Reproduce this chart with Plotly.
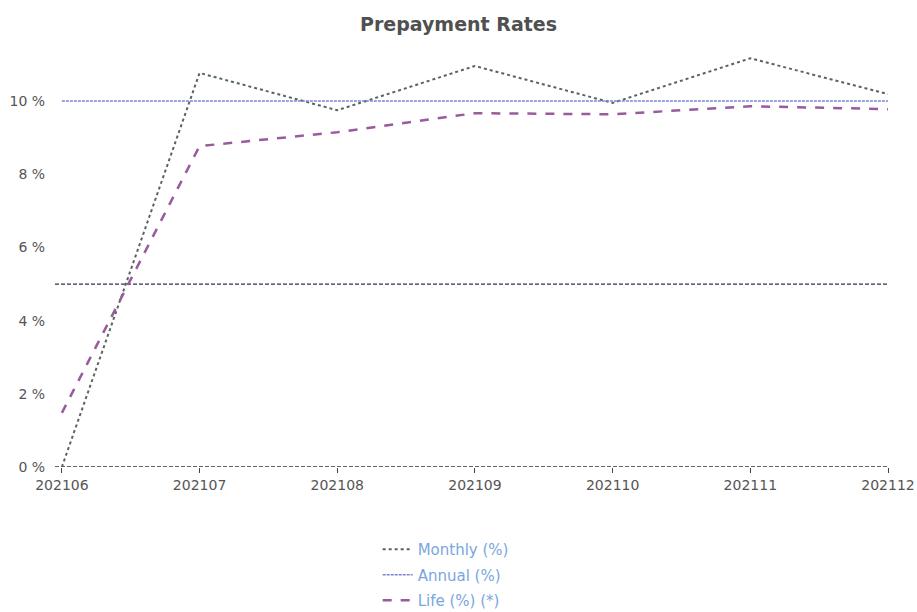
import plotly.graph_objects as go

months = ["202106", "202107", "202108", "202109", "202110", "202111", "202112"]
monthly = [0.0, 10.77, 9.75, 10.96, 9.95, 11.17, 10.19]
annual = [10.0, 10.0, 10.0, 10.0, 10.0, 10.0, 10.0]
life = [1.48, 8.77, 9.15, 9.67, 9.64, 9.86, 9.78]
threshold = 5.0
y_ticks = [0, 2, 4, 6, 8, 10]

xi = list(range(len(months)))

fig = go.Figure()
fig.add_trace(go.Scatter(x=xi, y=monthly, mode="lines", name="Monthly (%)",
                         legendgroup="a",
                         line=dict(color="#56665a", width=2, dash="dot")))
fig.add_trace(go.Scatter(x=xi, y=annual, mode="lines", name="Annual (%)",
                         legendgroup="b",
                         line=dict(color="#7f84d6", width=1.5, dash="3px,1px")))
fig.add_trace(go.Scatter(x=xi, y=life, mode="lines", name="Life (%) (*)",
                         legendgroup="c",
                         line=dict(color="#9a5a9e", width=2.5, dash="dash")))

# 5% reference line and dashed x-axis baseline
fig.add_shape(type="line", xref="paper", x0=0, x1=1, yref="y", y0=threshold, y1=threshold,
              line=dict(color="#33334d", width=1.3, dash="4px,2px"), layer="below")
fig.add_shape(type="line", xref="paper", x0=0, x1=1, yref="y", y0=0, y1=0,
              line=dict(color="#333333", width=1.3, dash="4px,2px"), layer="below")

fig.update_layout(
    width=917, height=612,
    margin=dict(l=55, r=29, t=40, b=145, autoexpand=False),
    paper_bgcolor="white", plot_bgcolor="white",
    title=dict(text="<b>Prepayment Rates</b>", x=0.5, xanchor="center", y=0.96, yanchor="middle",
               font=dict(family="DejaVu Sans", size=19, color="#505050")),
    font=dict(family="DejaVu Sans", size=13, color="#555555"),
    xaxis=dict(range=[-0.05, 6.0], tickmode="array", tickvals=xi, ticktext=months,
               showgrid=False, zeroline=False, showline=False,
               ticks="outside", ticklen=5, tickcolor="#444444",
               ticklabeloverflow="allow",
               tickfont=dict(size=14, color="#555555")),
    yaxis=dict(range=[0, 11.67], tickmode="array", tickvals=y_ticks,
               ticktext=[f"{v} %" for v in y_ticks],
               showgrid=False, zeroline=False, showline=False,
               ticks="outside", ticklen=6, tickcolor="rgba(0,0,0,0)",
               tickfont=dict(size=14, color="#555555")),
    legend=dict(orientation="v", x=0.469, xanchor="center",
                yref="container", y=0.129, yanchor="top",
                font=dict(size=15, color="#79a6e0"), tracegroupgap=3,
                bgcolor="rgba(0,0,0,0)"),
    showlegend=True,
)

fig.write_html("out.html")
